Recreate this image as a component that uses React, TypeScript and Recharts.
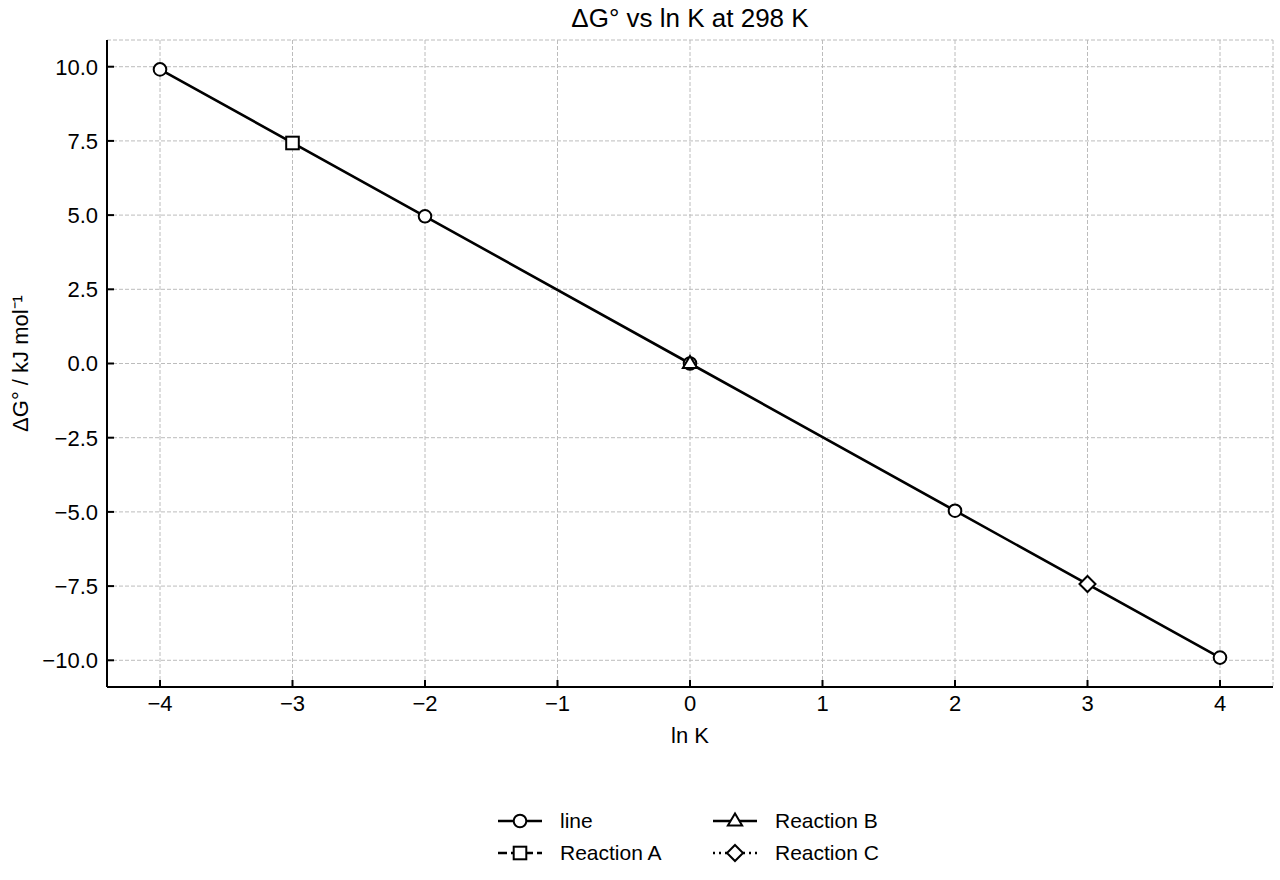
import {
  ComposedChart, Scatter, XAxis, YAxis, CartesianGrid, Legend,
} from 'recharts'

// ln K values and ΔG° (kJ/mol)
const LINE_LNK = [-4, -2, 0, 2, 4]
const LINE_DG = [9.91, 4.96, 0, -4.96, -9.91]
const REACTION_NAMES = ['Reaction A', 'Reaction B', 'Reaction C']
const REACTION_LNK = [-3, 0, 3]
const REACTION_DG = [7.43, 0, -7.43]
const X_TICKS = [-4, -3, -2, -1, 0, 1, 2, 3, 4]
const Y_TICKS = [-10, -7.5, -5, -2.5, 0, 2.5, 5, 7.5, 10]

const FONT = '"Liberation Sans", Arial, Helvetica, sans-serif'

const lineData = LINE_LNK.map((x, i) => ({ x, y: LINE_DG[i] }))
const reactionData = REACTION_NAMES.map((_, i) => [{ x: REACTION_LNK[i], y: REACTION_DG[i] }])

const minus = (s: string) => s.replace('-', '\u2212')

type Marker = 'circle' | 'square' | 'triangle' | 'diamond'

function markerEl(kind: Marker, cx: number, cy: number, key?: string) {
  const common = { fill: '#fff', stroke: '#000', strokeWidth: 2, key }
  if (kind === 'circle') return <circle cx={cx} cy={cy} r={6.3} {...common} />
  if (kind === 'square') return <rect x={cx - 6.3} y={cy - 6.3} width={12.6} height={12.6} {...common} />
  if (kind === 'triangle') {
    const r = 7.5
    return <polygon points={`${cx},${cy - r} ${cx - r * 0.95},${cy + r * 0.6} ${cx + r * 0.95},${cy + r * 0.6}`} {...common} />
  }
  const d = 8
  return <polygon points={`${cx},${cy - d} ${cx + d},${cy} ${cx},${cy + d} ${cx - d},${cy}`} {...common} />
}

const shapeFor = (kind: Marker) => (p: any) => markerEl(kind, p.cx, p.cy)

const LEGEND_ITEMS: { name: string; marker: Marker; dash?: string; left: number; top: number }[] = [
  { name: 'line', marker: 'circle', left: 497, top: 15 },
  { name: 'Reaction A', marker: 'square', dash: '9 4', left: 497, top: 47 },
  { name: 'Reaction B', marker: 'triangle', left: 712, top: 15 },
  { name: 'Reaction C', marker: 'diamond', dash: '2 4', left: 712, top: 47 },
]

function LegendContent() {
  return (
    <div style={{ position: 'relative', height: 64, width: '100%', fontFamily: FONT }}>
      {LEGEND_ITEMS.map((it) => (
        <div key={it.name} style={{ position: 'absolute', left: it.left, top: it.top - 12, height: 24, display: 'flex', alignItems: 'center' }}>
          <svg width={46} height={24}>
            <line x1={1} y1={12} x2={45} y2={12} stroke="#000" strokeWidth={2.5} strokeDasharray={it.dash} />
            {markerEl(it.marker, 23, 12)}
          </svg>
          <span style={{ marginLeft: 17, fontSize: 21, color: '#000', lineHeight: '24px' }}>{it.name}</span>
        </div>
      ))}
    </div>
  )
}

export default function App() {
  return (
    <div style={{ position: 'absolute', left: 0, top: 0, width: 1280, height: 880, fontFamily: FONT, background: '#fff' }}>
      <div style={{ position: 'absolute', top: 5, left: 107, width: 1166, textAlign: 'center', fontSize: 26, lineHeight: '26px', color: '#000' }}>
        ΔG° vs ln K at 298 K
      </div>
      <ComposedChart width={1280} height={880} margin={{ top: 40, right: 7, left: 0, bottom: 10 }}>
        <CartesianGrid stroke="#bcbcbc" strokeWidth={1} strokeDasharray="4 2" />
        <XAxis
          type="number"
          dataKey="x"
          domain={[-4.4, 4.4]}
          ticks={X_TICKS}
          allowDataOverflow
          height={119}
          axisLine={{ stroke: '#000', strokeWidth: 2 }}
          tickLine={{ stroke: '#000', strokeWidth: 2 }}
          tickSize={-7}
          tickMargin={15}
          tick={{ fontSize: 22, fill: '#000' }}
          tickFormatter={(v: number) => minus(String(v))}
          label={{
            content: (p: any) => (
              <text x={p.viewBox.x + p.viewBox.width / 2} y={p.viewBox.y + 56} textAnchor="middle" fontSize={22} fill="#000">
                ln K
              </text>
            ),
          }}
        />
        <YAxis
          type="number"
          dataKey="y"
          domain={[-10.9, 10.9]}
          ticks={Y_TICKS}
          allowDataOverflow
          width={107}
          axisLine={{ stroke: '#000', strokeWidth: 2 }}
          tickLine={{ stroke: '#000', strokeWidth: 2 }}
          tickSize={-7}
          tickMargin={16}
          tick={{ fontSize: 22, fill: '#000' }}
          tickFormatter={(v: number) => minus(v.toFixed(1))}
          label={{
            content: (p: any) => {
              const cy = p.viewBox.y + p.viewBox.height / 2
              return (
                <text x={28} y={cy} transform={`rotate(-90, 28, ${cy})`} textAnchor="middle" fontSize={22} fill="#000">
                  ΔG° / kJ mol⁻¹
                </text>
              )
            },
          }}
        />
        <Legend verticalAlign="bottom" content={<LegendContent />} />
        <Scatter
          name="line"
          data={lineData}
          fill="#fff"
          stroke="#000"
          line={{ stroke: '#000', strokeWidth: 2.6 }}
          lineType="joint"
          shape={shapeFor('circle')}
          isAnimationActive={false}
        />
        <Scatter name={REACTION_NAMES[0]} data={reactionData[0]} shape={shapeFor('square')} isAnimationActive={false} />
        <Scatter name={REACTION_NAMES[1]} data={reactionData[1]} shape={shapeFor('triangle')} isAnimationActive={false} />
        <Scatter name={REACTION_NAMES[2]} data={reactionData[2]} shape={shapeFor('diamond')} isAnimationActive={false} />
      </ComposedChart>
    </div>
  )
}
